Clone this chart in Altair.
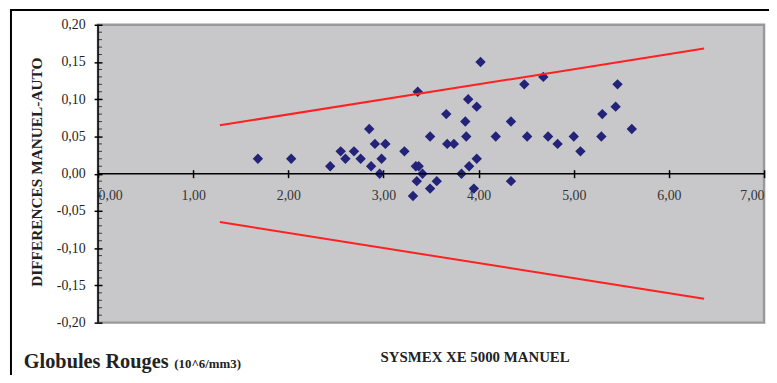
import altair as alt
import pandas as pd

# Data
x_vals = [1.68, 2.03, 2.44, 2.55, 2.60, 2.69, 2.76, 2.85, 2.87, 2.91, 2.98, 3.02, 2.96,
          3.22, 3.31, 3.36, 3.34, 3.37, 3.35, 3.41, 3.49, 3.49, 3.56, 3.66, 3.67, 3.74,
          3.82, 3.86, 3.87, 3.89, 3.90, 3.95, 3.98, 3.98, 4.02, 4.18, 4.34, 4.34, 4.48,
          4.51, 4.68, 4.73, 4.83, 5.00, 5.07, 5.29, 5.30, 5.44, 5.46, 5.61]
y_vals = [0.02, 0.02, 0.01, 0.03, 0.02, 0.03, 0.02, 0.06, 0.01, 0.04, 0.02, 0.04, 0.00,
          0.03, -0.03, 0.11, 0.01, 0.01, -0.01, 0.00, 0.05, -0.02, -0.01, 0.08, 0.04, 0.04,
          0.00, 0.07, 0.05, 0.10, 0.01, -0.02, 0.02, 0.09, 0.15, 0.05, 0.07, -0.01, 0.12,
          0.05, 0.13, 0.05, 0.04, 0.05, 0.03, 0.05, 0.08, 0.09, 0.12, 0.06]

limit_x = [1.28, 6.37, 1.28, 6.37]
limit_y = [0.065, 0.168, -0.065, -0.168]
limit_grp = ["upper", "upper", "lower", "lower"]

x_ticks = [0, 1, 2, 3, 4, 5, 6, 7]
y_ticks = [-0.20, -0.15, -0.10, -0.05, 0.00, 0.05, 0.10, 0.15, 0.20]
y_minor = [round(-0.20 + 0.01 * i, 2) for i in range(41)]
y_minor = [v for v in y_minor if round(v * 100) % 5 != 0]

W, H = 673, 301
FONT = "Liberation Serif"

pts = pd.DataFrame({"x": x_vals, "y": y_vals})
lim = pd.DataFrame({"x": limit_x, "y": limit_y, "g": limit_grp})
minor_df = pd.DataFrame({"y": y_minor})
zero_df = pd.DataFrame({"y": [0.0]})
one = pd.DataFrame({"a": [0]})

label_expr = "(datum.value < -0.0001 ? '-' : '') + replace(format(abs(datum.value), '.2f'), '.', ',')"

xscale = alt.Scale(domain=[0, 7], nice=False, zero=False)
yscale = alt.Scale(domain=[-0.2, 0.2], nice=False, zero=False)

x_axis = alt.Axis(values=x_ticks, labelExpr=label_expr, orient="bottom", offset=-(H / 2 + 4),
                  tickSize=8, tickColor="black", tickWidth=1.5, domain=False, grid=False,
                  labelFont=FONT, labelFontSize=14, labelColor="#333333", labelPadding=11,
                  labelOverlap=False, title=None)
y_axis = alt.Axis(values=y_ticks, labelExpr=label_expr, orient="left", offset=-4,
                  tickSize=8, tickColor="black", tickWidth=1.5, domain=False, grid=False,
                  labelFont=FONT, labelFontSize=14, labelColor="#222222", labelPadding=9,
                  labelOverlap=False, tickCount=9, title=None)

points = alt.Chart(pts).mark_point(shape="diamond", filled=True, size=110, color="#23237A",
                                   opacity=1).encode(
    x=alt.X("x:Q", scale=xscale, axis=x_axis),
    y=alt.Y("y:Q", scale=yscale, axis=y_axis),
)

minor = alt.Chart(minor_df).mark_tick(orient="horizontal", size=4, thickness=1,
                                      color="black").encode(
    x=alt.value(2),
    y=alt.Y("y:Q", scale=yscale, axis=y_axis),
)

lines = alt.Chart(lim).mark_line(color="#FF2020", strokeWidth=2).encode(
    x=alt.X("x:Q", scale=xscale, axis=x_axis),
    y=alt.Y("y:Q", scale=yscale, axis=y_axis),
    detail="g:N",
)

zero_line = alt.Chart(zero_df).mark_rule(color="black", strokeWidth=1.5).encode(
    y=alt.Y("y:Q", scale=yscale, axis=y_axis))
y_line = alt.Chart(one).mark_rule(color="black", strokeWidth=1.5).encode(
    x=alt.value(0), y=alt.value(0), y2=alt.value(H))

def txt(text, x, y, size, angle=0, align="center", baseline="middle"):
    return alt.Chart(one).mark_text(text=text, font=FONT, fontSize=size, fontWeight="bold",
                                    color="#222222", angle=angle, align=align,
                                    baseline=baseline).encode(
        x=alt.value(x), y=alt.value(y))

ytitle = txt("DIFFERENCES MANUEL-AUTO", -62, 149, 15.5, angle=270)
xtitle = txt("SYSMEX XE 5000 MANUEL", 381, 336, 15)
main1 = txt("Globules Rouges", -75, 347, 20.5, align="left", baseline="alphabetic")
main2 = txt("(10^6/mm3)", 77, 347, 13, align="left", baseline="alphabetic")

border = alt.Chart(one).mark_rect(fill="transparent", stroke="black", strokeWidth=2).encode(
    x=alt.value(-88), y=alt.value(-15), x2=alt.value(760), y2=alt.value(420))

chart = alt.layer(
    points, border, lines, zero_line, y_line, minor, ytitle, xtitle, main1, main2
).properties(
    width=W, height=H,
    autosize=alt.AutoSizeParams(type="none"),
    padding={"left": 91, "top": 15, "right": 5, "bottom": 51},
).configure_view(fill="#C8C8CA", stroke="#999999", strokeWidth=2.5)

chart.save("out.html", embed_options={"renderer": "svg", "actions": False})
